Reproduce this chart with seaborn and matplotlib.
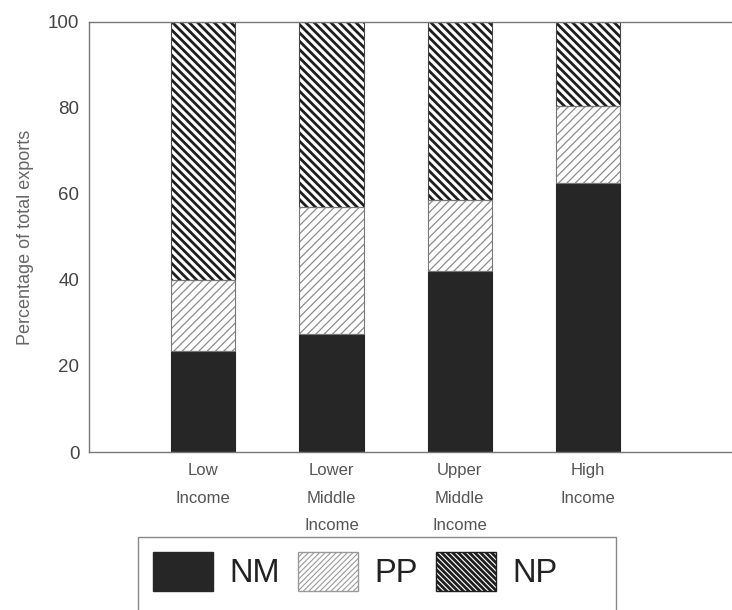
import pandas as pd
import matplotlib.pyplot as plt
import seaborn as sns
from matplotlib.patches import Patch, Rectangle

# Export composition by income group
groups = ["Low\nIncome", "Lower\nMiddle\nIncome", "Upper\nMiddle\nIncome", "High\nIncome"]
nm = [23.5, 27.5, 42.0, 62.5]
pp = [16.5, 29.5, 16.5, 18.0]
np_share = [60.0, 43.0, 41.5, 19.5]

df = pd.DataFrame({"group": groups, "NM": nm, "PP": pp, "NP": np_share})
df["top_pp"] = df["NM"] + df["PP"]
df["top_np"] = df["top_pp"] + df["NP"]

sns.set_style("white")
plt.rcParams["font.family"] = ["Liberation Sans", "DejaVu Sans"]
plt.rcParams["hatch.linewidth"] = 2.0

NP_HATCH = "\\\\\\\\"
PP_HATCH = "////"

fig = plt.figure(figsize=(7.32, 6.10), dpi=100)
ax = fig.add_axes([0.1216, 0.259, 0.8784, 0.705])

# layered bars: tallest first so the smaller totals sit on top
sns.barplot(data=df, x="group", y="top_np", color="white", width=0.5,
            edgecolor="#222222", linewidth=0, ax=ax)
sns.barplot(data=df, x="group", y="top_pp", color="white", width=0.5,
            edgecolor="#8a8a8a", linewidth=0, ax=ax)
sns.barplot(data=df, x="group", y="NM", color="#262626", width=0.5,
            edgecolor="#262626", linewidth=0.8, ax=ax)

n = len(groups)
for i, p in enumerate(ax.patches):
    layer = i // n
    if layer == 0:
        p.set_hatch(NP_HATCH)
        p.set_edgecolor("#1e1e1e")
    elif layer == 1:
        p.set_hatch(PP_HATCH)
        p.set_edgecolor("#8c8c8c")
        if hasattr(p, "set_hatch_linewidth"):
            p.set_hatch_linewidth(0.9)

# outlines for the hatched segments
for i in range(n):
    ax.bar(i, df["top_np"][i] - df["top_pp"][i], bottom=df["top_pp"][i], width=0.5,
           fill=False, edgecolor="#444444", linewidth=0.8)
    ax.bar(i, df["PP"][i], bottom=df["NM"][i], width=0.5,
           fill=False, edgecolor="#777777", linewidth=0.8)

ax.set_xlim(-0.888, 4.12)
ax.set_ylim(0, 100)
ax.set_yticks([0, 20, 40, 60, 80, 100])
ax.set_xlabel("")
ax.set_ylabel("Percentage of total exports", fontsize=13, color="#666666", labelpad=10)

ax.spines["right"].set_visible(False)
for side in ["left", "top", "bottom"]:
    ax.spines[side].set_color("#777777")
    ax.spines[side].set_linewidth(1.0)

ax.tick_params(axis="y", length=5, color="#777777", labelsize=13.5, labelcolor="#444444", pad=2)
ax.tick_params(axis="x", length=0, labelsize=12, labelcolor="#555555", pad=8)
for lbl in ax.get_xticklabels():
    lbl.set_linespacing(2.05)
    lbl.set_verticalalignment("top")
ax.set_xticks([0.42, 1.35, 2.35], minor=True)
ax.tick_params(axis="x", which="minor", length=4, color="#999999", direction="out")

handles = [
    Patch(facecolor="#262626", edgecolor="#262626", label="NM"),
    Patch(facecolor="white", edgecolor="#999999", hatch="//////", label="PP"),
    Patch(facecolor="white", edgecolor="#1e1e1e", hatch="\\\\\\\\\\\\", label="NP"),
]
leg = fig.legend(handles=handles, loc="upper left", bbox_to_anchor=(0.1885, 0.1197),
                 ncol=3, fontsize=23.5, frameon=False,
                 handlelength=1.85, handleheight=1.5, handletextpad=0.5,
                 columnspacing=0.55, borderpad=0.45, borderaxespad=0)
for t in leg.get_texts():
    t.set_color("#222222")
pp_handle = leg.legend_handles[1]
if hasattr(pp_handle, "set_hatch_linewidth"):
    pp_handle.set_hatch_linewidth(0.8)

# legend frame runs past the bottom edge of the figure
fig.patches.append(Rectangle((138 / 732, -0.02), (616 - 138) / 732, 0.02 + (610 - 537) / 610,
                             transform=fig.transFigure, fill=False,
                             edgecolor="#888888", linewidth=1.0))

fig.savefig("out.png", dpi=100)
